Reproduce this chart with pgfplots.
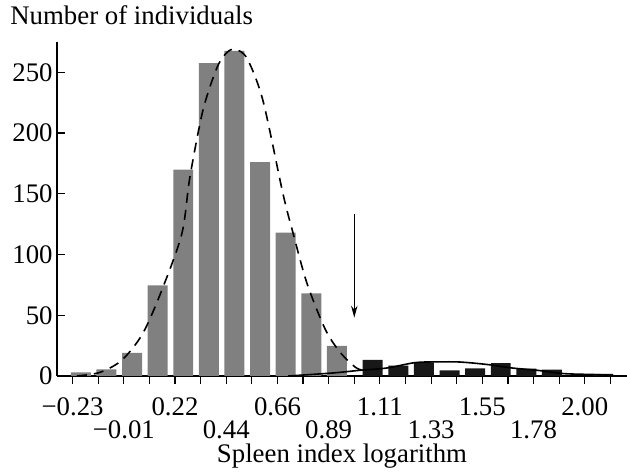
\documentclass[border=0pt]{standalone}
\usepackage{fontspec}
\setmainfont{Liberation Serif}
\usepackage{pgfplots}
\pgfplotsset{compat=1.18}
\usetikzlibrary{arrows.meta}
\definecolor{bargray}{RGB}{128,128,128}
\definecolor{barblack}{RGB}{24,24,24}

\begin{document}
\begin{tikzpicture}[font=\fontsize{13.4}{15}\selectfont]
\begin{axis}[
    at={(0,0)}, anchor=south west,
    scale only axis,
    width=285pt, height=167pt,
    xmin=-0.61, xmax=21.65,
    ymin=0, ymax=275,
    axis lines*=left,
    axis line style={line width=0.6pt},
    tick align=outside,
    major tick length=4pt,
    tick style={line width=0.6pt, black},
    y tick style={xshift=4pt},
    ytick={0,50,100,150,200,250},
    /pgf/number format/assume math mode=true,
    yticklabel style={anchor=east, inner sep=0pt, xshift=2pt},
    xtick={0,...,21},
    xticklabels={−0.23,,,,0.22,,,,0.66,,,,1.11,,,,1.55,,,,2.00,},
    extra x ticks={2,6,10,14,18},
    extra x tick labels={−0.01,0.44,0.89,1.33,1.78},
    extra x tick style={xticklabel style={yshift=-11.5pt}, tick style={line width=0.6pt, black}},
    xticklabel style={anchor=base, inner sep=0pt, yshift=-16pt},
    xlabel={Spleen index logarithm},
    xlabel style={at={(axis description cs:0.5,0)}, anchor=base, yshift=-43.5pt},
    ylabel={Number of individuals},
    ylabel style={rotate=-90, at={(axis description cs:-0.0825,1.051)}, anchor=base west, inner sep=0pt},
    clip=false,
]
% gray bars (main group)
\addplot[ybar, bar width=0.78, bar shift=0pt, fill=bargray, draw=none] coordinates {
    (0.32,3) (1.32,5.5) (2.32,19) (3.32,74.6) (4.32,170) (5.32,257.7)
    (6.32,267.6) (7.32,176) (8.32,118) (9.32,68) (10.32,24.7)
};
% black bars (second group)
\addplot[ybar, bar width=0.78, bar shift=0pt, fill=barblack, draw=none] coordinates {
    (11.72,13.2) (12.72,8.5) (13.72,11.2) (14.72,4.7) (15.72,6.3)
    (16.72,10.7) (17.72,6.0) (18.72,5.2) (20.72,1.8)
};
% dashed fitted curve
\addplot[smooth, dash pattern=on 5pt off 3.5pt, line width=0.8pt, black] coordinates {
    (0.17,0) (1.07,3) (1.93,13.2) (2.75,35.4) (3.53,73.2) (4.27,117.6)
    (4.58,163.7) (5.09,218.8) (5.64,254) (6.03,266.4) (6.35,268.9)
    (6.81,261.5) (7.43,227) (8.21,150.5) (8.61,117.6) (9.15,76.5)
    (9.86,38.7) (10.44,19.7) (11.03,7.4) (11.30,4.9)
};
% solid fitted curve
\addplot[smooth, line width=0.8pt, black] coordinates {
    (8.42,0) (10.17,2.5) (11.22,4.7) (12.28,6.6) (13.37,11.0) (14.27,11.6)
    (15.13,11.5) (16.22,9.4) (17.16,6.6) (18.14,4.7) (19.16,2.0)
    (20.33,1.2) (21.11,0.6)
};
\draw[line width=0.6pt, -{Stealth[length=6pt, width=3.2pt]}] (axis cs:11,133) -- (axis cs:11,48);
\end{axis}
\pgfresetboundingbox
\path[use as bounding box] (-28.5pt,-50pt) rectangle (285pt,188pt);
\end{tikzpicture}
\end{document}
